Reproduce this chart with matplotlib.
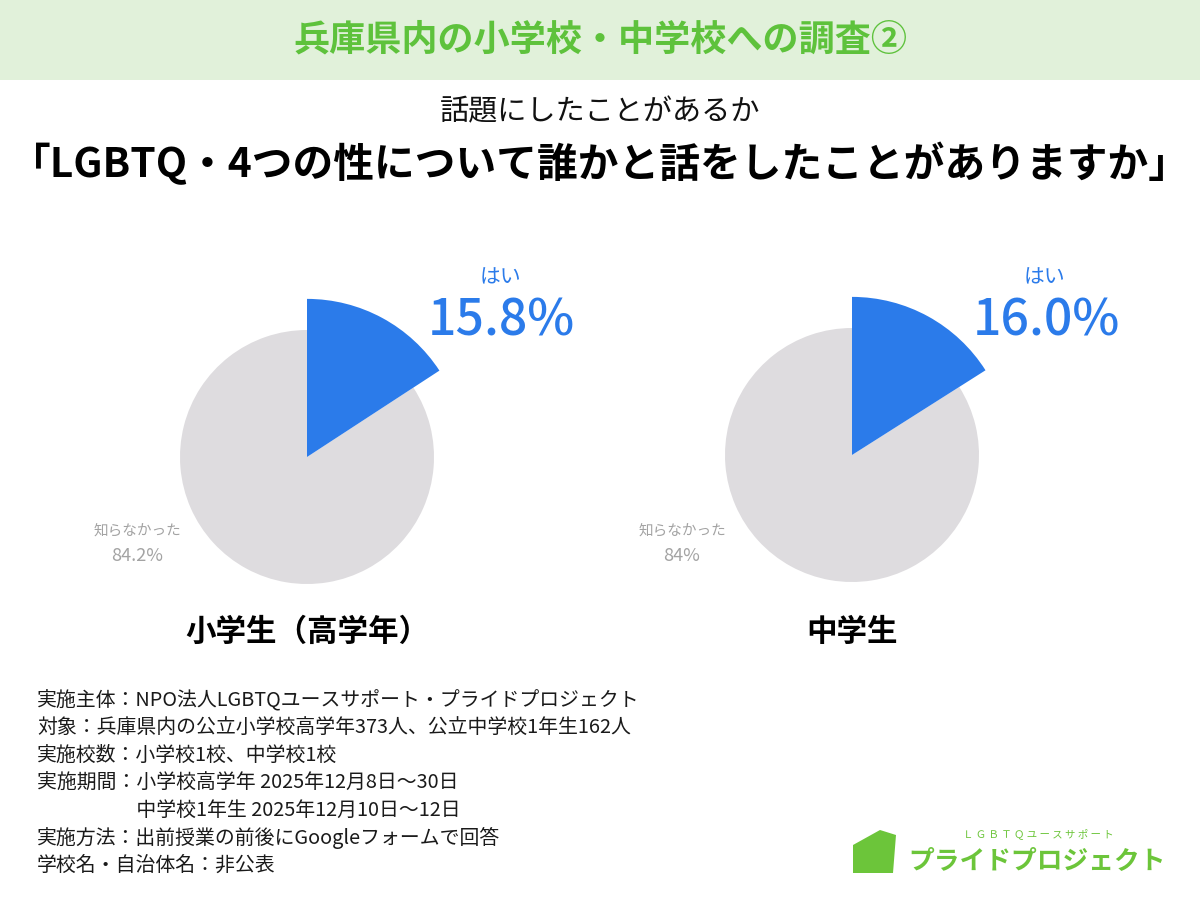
import matplotlib.pyplot as plt
from matplotlib.patches import Rectangle, Polygon

plt.rcParams['font.family'] = ['Noto Sans CJK JP', 'DejaVu Sans']

# data
groups = ["小学生（高学年）", "中学生"]
yes_pct = [15.8, 16.0]
no_pct = [84.2, 84.0]
no_labels = ["84.2%", "84%"]
yes_label = "はい"
no_label = "知らなかった"

header = "兵庫県内の小学校・中学校への調査②"
subtitle = "話題にしたことがあるか"
title = "「LGBTQ・4つの性について誰かと話をしたことがありますか」"
notes = [
    "実施主体：NPO法人LGBTQユースサポート・プライドプロジェクト",
    "対象：兵庫県内の公立小学校高学年373人、公立中学校1年生162人",
    "実施校数：小学校1校、中学校1校",
    "実施期間：小学校高学年 2025年12月8日～30日",
    "　　　　　中学校1年生 2025年12月10日～12日",
    "実施方法：出前授業の前後にGoogleフォームで回答",
    "学校名・自治体名：非公表",
]

BLUE = "#2b7bea"
GREY = "#dedcdf"
W, H = 1200, 900

fig = plt.figure(figsize=(12, 9), dpi=100)
fig.patch.set_facecolor("white")

def fx(px):
    return px / W

def fy(py):
    return 1 - py / H

# header band
fig.patches.append(Rectangle((0, fy(80)), 1, 80 / H, transform=fig.transFigure,
                             facecolor="#e1f1da", edgecolor="none", zorder=0))
fig.text(0.5, fy(40), header, ha="center", va="center", fontsize=26,
         fontweight="bold", color="#5ec23c")
fig.text(0.5, fy(112), subtitle, ha="center", va="center", fontsize=21, color="#111111")
fig.text(0.5, fy(165), title, ha="center", va="center", fontsize=29.3,
         fontweight="bold", color="#000000")

centers = [(307, 457), (852, 455)]
size = 400
for i, (cx, cy) in enumerate(centers):
    ax = fig.add_axes([fx(cx - size / 2), fy(cy + size / 2), size / W, size / H])
    wedges, _ = ax.pie([yes_pct[i], no_pct[i]], colors=[BLUE, GREY], startangle=90,
                       counterclock=False, radius=1.0,
                       wedgeprops=dict(linewidth=0))
    wedges[0].set_radius(1.245)
    wedges[0].set_zorder(3)
    lim = size / 2 / 127
    ax.set_xlim(-lim, lim)
    ax.set_ylim(-lim, lim)
    ax.set_aspect("equal")
    ax.axis("off")

    fig.text(fx(cx + 193), fy(277), yes_label, ha="center", va="center",
             fontsize=15, color=BLUE)
    fig.text(fx(cx + 194), fy(322), f"{yes_pct[i]:.1f}%", ha="center", va="center",
             fontsize=36, color=BLUE, fontweight="medium")
    fig.text(fx(cx - 170), fy(531), no_label, ha="center", va="center",
             fontsize=10.5, color="#a3a3a3")
    fig.text(fx(cx - 170), fy(556), no_labels[i], ha="center", va="center",
             fontsize=13, color="#a3a3a3")
    fig.text(fx(cx), fy(632), groups[i], ha="center", va="center",
             fontsize=22, fontweight="bold", color="#000000")

for j, line in enumerate(notes):
    fig.text(fx(37), fy(701 + j * 27.3), line, ha="left", va="center",
             fontsize=14.3, color="#1a1a1a")

# logo
icon = Polygon([(fx(853), fy(873)), (fx(853), fy(845)), (fx(880), fy(830)),
                (fx(896), fy(835)), (fx(893), fy(873))], closed=True,
               transform=fig.transFigure, facecolor="#6cc53a", edgecolor="none")
fig.patches.append(icon)
fig.text(fx(1038), fy(834), "Ｌ Ｇ Ｂ Ｔ Ｑ ユ ー ス サ ポ ー ト", ha="center", va="center",
         fontsize=7.5, color="#6cc53a")
fig.text(fx(1037), fy(861), "プライドプロジェクト", ha="center", va="center",
         fontsize=18.5, fontweight="bold", color="#6cc53a")

fig.savefig("out.png", dpi=100)
